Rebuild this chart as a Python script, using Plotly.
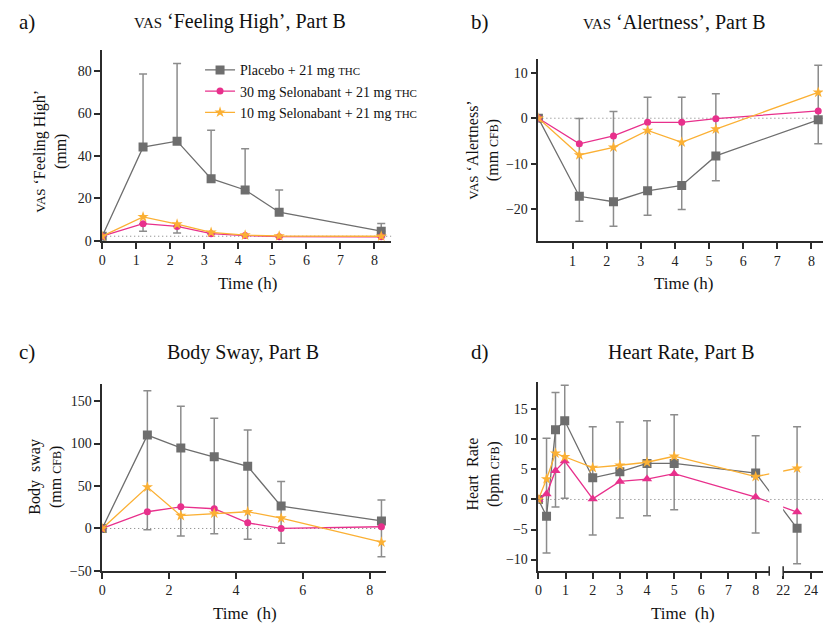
import plotly.graph_objects as go

FONT = "Liberation Serif"
GRAY = "#6e6e6e"
PINK = "#e8308c"
YELLOW = "#fbb034"
ERR = "#8c8c8c"
AX = "#2b2b2b"

# ---------- Panel a: VAS 'Feeling High' ----------
a_time = [0, 1.2, 2.2, 3.2, 4.2, 5.2, 8.2]
a_placebo = [2.2, 44.2, 47.0, 29.3, 24.0, 13.5, 4.6]
a_placebo_up = [0, 34.5, 36.6, 22.9, 19.4, 10.5, 3.6]
a_s30 = [2.2, 8.1, 6.8, 3.4, 2.5, 2.0, 1.9]
a_s30_dn = [0, 3.6, 3.1, 0, 0, 0, 0]
a_s10 = [2.2, 11.3, 7.9, 4.0, 2.7, 2.3, 2.2]
a_baseline = 2.2

# ---------- Panel b: VAS 'Alertness' ----------
b_time = [0, 1.2, 2.2, 3.2, 4.2, 5.2, 8.2]
b_placebo = [0, -17.2, -18.4, -16.0, -14.8, -8.3, -0.35]
b_placebo_dn = [0, 5.5, 5.4, 5.4, 5.3, 5.5, 5.3]
b_s30 = [0, -5.65, -3.9, -0.9, -0.9, -0.1, 1.6]
b_s30_up = [0, 5.6, 5.4, 5.5, 5.5, 5.5, 0]
b_s10 = [0, -8.1, -6.4, -2.7, -5.3, -2.4, 5.7]
b_s10_up = [0, 0, 0, 0, 0, 0, 6.0]

# ---------- Panel c: Body sway ----------
c_time = [0, 1.35, 2.35, 3.35, 4.35, 5.35, 8.35]
c_placebo = [0, 109.9, 94.8, 84.3, 73.1, 26.3, 8.9]
c_placebo_up = [0, 52.1, 49.1, 45.3, 42.9, 29.0, 24.7]
c_s30 = [0, 19.7, 25.5, 23.2, 6.6, 0.0, 2.0]
c_s30_dn = [0, 21.2, 34.3, 29.4, 19.3, 17.4, 0]
c_s10 = [0, 48.7, 15.1, 17.8, 19.7, 12.1, -16.2]
c_s10_dn = [0, 0, 0, 0, 0, 0, 17.0]

# ---------- Panel d: Heart rate ----------
d_time = [0, 0.3, 0.63, 0.97, 2, 3, 4, 5, 8, 23]
d_placebo = [0, -2.8, 11.6, 13.1, 3.6, 4.6, 6.0, 6.0, 4.4, -4.8]
d_placebo_up = [0, 0, 6.2, 5.9, 8.5, 8.3, 7.1, 8.1, 6.2, 0]
d_placebo_dn = [0, 6.1, 0, 0, 0, 0, 0, 0, 0, 5.9]
d_s30 = [0, 0.9, 4.8, 6.4, 0.1, 3.0, 3.4, 4.3, 0.4, -2.1]
d_s30_dn = [0, 0, 6.05, 6.2, 6.0, 6.1, 6.1, 6.0, 6.0, 0]
d_s10 = [0, 3.4, 7.7, 7.1, 5.3, 5.7, 6.2, 7.2, 3.8, 5.2]
d_s10_up = [0, 6.8, 0, 0, 0, 0, 0, 0, 0, 6.9]
d_xticks = [0, 1, 2, 3, 4, 5, 6, 7, 8, 22, 24]

series_names = ["Placebo + 21 mg <span style='font-size:11px'>THC</span>",
                "30 mg Selonabant + 21 mg <span style='font-size:11px'>THC</span>",
                "10 mg Selonabant + 21 mg <span style='font-size:11px'>THC</span>"]

# broken x-axis for panel d: 0-8.5 then 22-24.x compressed
BREAK_LO = 8.5
BREAK_HI = 22
D_SCALE = 14 / 27.3


def brk(t):
    return t if t <= BREAK_LO else BREAK_LO + D_SCALE * (1 + t - BREAK_HI)


fig = go.Figure()


def envelope(xs, series, ax):
    mids, errs, xv = [], [], []
    for i, x in enumerate(xs):
        top = max(v[i] + up[i] for v, up, dn in series)
        bot = min(v[i] - dn[i] for v, up, dn in series)
        if top - bot > 1e-9 and any(up[i] > 0 or dn[i] > 0 for v, up, dn in series):
            xv.append(x)
            mids.append((top + bot) / 2)
            errs.append((top - bot) / 2)
    fig.add_trace(go.Scatter(
        x=xv, y=mids, mode="markers", marker=dict(size=1, opacity=0),
        error_y=dict(type="data", array=errs, symmetric=True, color=ERR, thickness=1.5, width=4),
        xaxis="x" + ax, yaxis="y" + ax, showlegend=False, hoverinfo="skip"))


def add_lines(xs, ys, color, symbol, size, name, ax, legend, err=None):
    t = go.Scatter(
        x=xs, y=ys, mode="lines+markers", name=name,
        line=dict(color=color, width=1.3),
        marker=dict(color=color, symbol=symbol, size=size, line=dict(width=0)),
        xaxis="x" + ax, yaxis="y" + ax, showlegend=legend, hoverinfo="skip")
    if err is not None:
        t.error_y = err
    fig.add_trace(t)


zero = [0] * 7

STAR = 8.5

# Panel a
add_lines(a_time, a_placebo, GRAY, "square", 9, series_names[0], "", True,
          dict(type="data", array=a_placebo_up, arrayminus=zero, symmetric=False,
               color=ERR, thickness=1.5, width=4))
add_lines(a_time, a_s30, PINK, "circle", 7, series_names[1], "", True,
          dict(type="data", array=zero, arrayminus=a_s30_dn, symmetric=False,
               color=ERR, thickness=1.5, width=4))
add_lines(a_time, a_s10, YELLOW, "star", STAR, series_names[2], "", True)

# Panel b
envelope(b_time, [(b_placebo, zero, b_placebo_dn), (b_s30, b_s30_up, zero), (b_s10, b_s10_up, zero)], "2")
add_lines(b_time, b_placebo, GRAY, "square", 9, series_names[0], "2", False)
add_lines(b_time, b_s30, PINK, "circle", 7, series_names[1], "2", False)
add_lines(b_time, b_s10, YELLOW, "star", STAR, series_names[2], "2", False)

# Panel c
envelope(c_time, [(c_placebo, c_placebo_up, zero), (c_s30, zero, c_s30_dn), (c_s10, zero, c_s10_dn)], "3")
add_lines(c_time, c_placebo, GRAY, "square", 9, series_names[0], "3", False)
add_lines(c_time, c_s30, PINK, "circle", 7, series_names[1], "3", False)
add_lines(c_time, c_s10, YELLOW, "star", STAR, series_names[2], "3", False)

# Panel d
dz = [0] * len(d_time)
dX = [brk(t) for t in d_time]
envelope(dX, [(d_placebo, d_placebo_up, d_placebo_dn), (d_s30, dz, d_s30_dn), (d_s10, d_s10_up, dz)], "4")
add_lines(dX, d_placebo, GRAY, "square", 9, series_names[0], "4", False)
add_lines(dX, d_s30, PINK, "triangle-up", 9, series_names[1], "4", False)
add_lines(dX, d_s10, YELLOW, "star", STAR, series_names[2], "4", False)

W, H = 824, 629


def dom_x(a, b):
    return [a / W, b / W]


def dom_y(top, bottom):
    return [1 - bottom / H, 1 - top / H]


axis_common = dict(showline=True, linecolor=AX, linewidth=1.5, ticks="outside", ticklen=6,
                   tickwidth=1.5, tickcolor=AX, showgrid=False, zeroline=False,
                   tickfont=dict(family=FONT, size=14, color="#222"), fixedrange=True)

fig.update_layout(
    width=W, height=H, margin=dict(l=0, r=0, t=0, b=0),
    paper_bgcolor="white", plot_bgcolor="white",
    font=dict(family=FONT, color="#111"),
    xaxis=dict(domain=dom_x(98.7, 389), range=[0, 8.49], tickvals=list(range(9)),
               anchor="y", **axis_common),
    yaxis=dict(domain=dom_y(51, 244), range=[0, 89.8], tickvals=[0, 20, 40, 60, 80],
               anchor="x", **axis_common),
    xaxis2=dict(domain=dom_x(537, 823), range=[0, 8.34], tickvals=list(range(1, 9)),
                anchor="y2", **axis_common),
    yaxis2=dict(domain=dom_y(60, 244.3), range=[-27.1, 13.0], tickvals=[-20, -10, 0, 10],
                anchor="x2", **axis_common),
    xaxis3=dict(domain=dom_x(98.7, 384), range=[0, 8.49], tickvals=[0, 2, 4, 6, 8],
                anchor="y3", **axis_common),
    yaxis3=dict(domain=dom_y(389, 578.3), range=[-50, 170], tickvals=[-50, 0, 50, 100, 150],
                anchor="x3", **axis_common),
    xaxis4=dict(domain=dom_x(537, 823), range=[0, 10.48], tickvals=[brk(t) for t in d_xticks],
                ticktext=[str(t) for t in d_xticks], anchor="y4", **axis_common),
    yaxis4=dict(domain=dom_y(387.3, 578.3), range=[-11.9, 19.5], tickvals=[-10, -5, 0, 5, 10, 15],
                anchor="x4", **axis_common),
    legend=dict(x=197 / W, y=1 - 55 / H, xanchor="left", yanchor="top",
                font=dict(family=FONT, size=14, color="#111"), bgcolor="rgba(0,0,0,0)",
                tracegroupgap=0, itemwidth=30),
)

DOT = dict(color="#777", width=1, dash="1px,3px")
shapes = []
# dotted reference lines
for ax, y0 in [("", a_baseline), ("2", 0), ("3", 0)]:
    shapes.append(dict(type="line", xref="x%s domain" % ax, yref="y" + ax, x0=0, x1=1, y0=y0, y1=y0,
                       line=DOT, layer="below"))
# axis break in panel d: mask the gap, then redraw dotted zero line and break marks
shapes.append(dict(type="rect", xref="x4", yref="y4 domain", x0=BREAK_LO, x1=brk(BREAK_HI),
                   y0=-0.025, y1=1, fillcolor="white", line=dict(width=0), layer="above"))
shapes.append(dict(type="line", xref="x4 domain", yref="y4", x0=0, x1=1, y0=0, y1=0,
                   line=DOT, layer="above"))
for xb in [BREAK_LO, brk(BREAK_HI)]:
    shapes.append(dict(type="line", xref="x4", yref="y4 domain", x0=xb, x1=xb, y0=-0.025, y1=0.025,
                       line=dict(color=AX, width=1.5), layer="above"))
fig.update_layout(shapes=shapes)

SC = "<span style='font-size:12px'>%s</span>"
ann = []


def text(x, y, s, size=18, angle=0, anchor="center"):
    ann.append(dict(x=x / W, y=1 - y / H, xref="paper", yref="paper", text=s, showarrow=False,
                    font=dict(family=FONT, size=size, color="#111"), textangle=angle,
                    xanchor=anchor, yanchor="middle", align="center"))


text(13, 22, "a)", 21, anchor="left")
text(467, 22, "b)", 21, anchor="left")
text(13, 357, "c)", 21, anchor="left")
text(467, 357, "d)", 21, anchor="left")

text(237, 22, "<span style='font-size:15px'>VAS</span> ‘Feeling High’, Part B", 20)
text(674, 22, "<span style='font-size:15px'>VAS</span> ‘Alertness’, Part B", 20)
text(240, 357, "Body Sway, Part B", 20)
text(681, 357, "Heart Rate, Part B", 20)

text(46, 153, "<span style='font-size:13px'>VAS</span> ‘Feeling High’<br>(mm)", 16, angle=-90)
text(481, 152, "<span style='font-size:13px'>VAS</span> ‘Alertness’<br>(mm " + SC % "CFB" + ")", 16, angle=-90)
text(42, 483, "Body  sway<br>(mm " + SC % "CFB" + ")", 16, angle=-90)
text(482, 480, "Heart  Rate<br>(bpm " + SC % "CFB" + ")", 16, angle=-90)

text(245, 287, "Time (h)", 17)
text(683, 287, "Time (h)", 17)
text(242, 621, "Time  (h)", 17)
text(682, 621, "Time  (h)", 17)
fig.update_layout(annotations=ann)

fig.write_html("out.html")
